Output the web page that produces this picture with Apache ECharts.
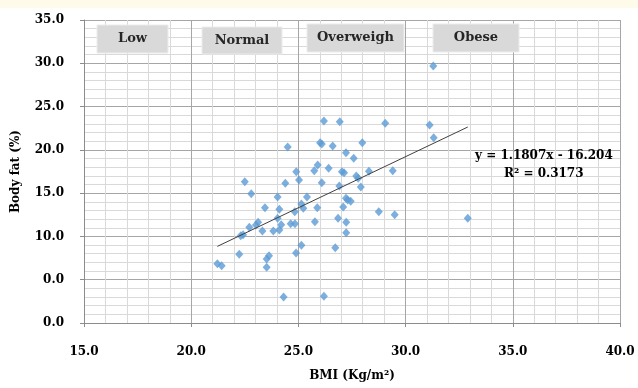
<!DOCTYPE html>
<html>
<head>
<meta charset="utf-8">
<script src="https://cdn.jsdelivr.net/npm/echarts@6/dist/echarts.min.js"></script>
<style>
  html, body { margin: 0; padding: 0; background: #fff; }
  #chart { width: 638px; height: 388px; }
</style>
</head>
<body>
<div id="chart"></div>
<script>
// BMI (x) vs body fat (y)
const bmi = [
  26.19, 26.93, 29.05, 24.50, 26.01, 26.09, 26.60, 27.98, 27.22, 27.58,
  25.90, 26.41, 25.74, 24.90, 27.03, 27.13, 28.29, 29.40, 27.70, 27.79,
  25.03, 22.50, 24.39, 26.09, 26.91, 27.91, 22.80, 24.03, 25.40, 27.22,
  27.30, 27.44, 25.14, 23.44, 24.11, 25.23, 25.88, 27.09, 28.75, 29.49,
  24.83, 24.03, 26.85, 23.12, 23.02, 22.71, 24.20, 24.64, 24.84, 25.77,
  27.23, 23.32, 23.83, 24.11, 22.42, 22.31, 27.23, 25.14, 26.72, 24.89,
  22.24, 23.63, 23.52, 21.22, 21.42, 23.52, 24.31, 26.19, 31.29, 31.12,
  31.31, 32.90
];
const bodyFat = [
  23.33, 23.25, 23.07, 20.33, 20.83, 20.68, 20.45, 20.83, 19.67, 19.02,
  18.25, 17.87, 17.59, 17.48, 17.48, 17.36, 17.52, 17.59, 16.98, 16.71,
  16.52, 16.32, 16.14, 16.21, 15.83, 15.71, 14.94, 14.55, 14.55, 14.40,
  14.21, 14.06, 13.75, 13.32, 13.13, 13.25, 13.32, 13.40, 12.86, 12.51,
  12.86, 12.09, 12.09, 11.63, 11.32, 11.05, 11.36, 11.47, 11.47, 11.70,
  11.63, 10.63, 10.63, 10.74, 10.20, 10.08, 10.43, 8.98, 8.70, 8.09,
  7.94, 7.77, 7.39, 6.85, 6.62, 6.43, 3.00, 3.08, 29.69, 22.87,
  21.40, 12.09
];

// linear trend line ends (from the picture)
const trendX = [21.22, 32.90];
const trendY = [8.85, 22.64];

// tick labels as printed on the original
const yTickLabels = ['0.0', '0.0', '10.0', '15.0', '20.0', '25.0', '30.0', '35.0'];
const categories = ['Low', 'Normal', 'Overweigh', 'Obese'];

const serif = '"DejaVu Serif", "Liberation Serif", serif';
const points = bmi.map((x, i) => [x, bodyFat[i]]);
const trend = trendX.map((x, i) => [x, trendY[i]]);

const boxes = [
  { x: 97, y: 25, w: 71, h: 28 },
  { x: 202, y: 27, w: 80, h: 27 },
  { x: 307, y: 24, w: 97, h: 28 },
  { x: 433, y: 24, w: 86, h: 28 }
];

const graphic = [
  { type: 'rect', x: 0, y: 0, shape: { width: 638, height: 8 }, style: { fill: '#fffbea' }, z: 0 }
];
boxes.forEach((b, i) => {
  graphic.push({
    type: 'rect',
    x: b.x, y: b.y,
    shape: { width: b.w, height: b.h },
    style: { fill: '#d9d9d9', stroke: '#ececec', lineWidth: 1 },
    z: 10
  });
  graphic.push({
    type: 'text',
    x: b.x + b.w / 2, y: b.y + b.h / 2,
    style: {
      text: categories[i], fill: '#262626', font: 'bold 13px ' + serif,
      align: 'center', verticalAlign: 'middle'
    },
    z: 11
  });
});
graphic.push({
  type: 'text', x: 475, y: 156,
  style: { text: 'y = 1.1807x - 16.204', fill: '#000', font: 'bold 12px ' + serif, verticalAlign: 'middle' },
  z: 11
});
graphic.push({
  type: 'text', x: 504, y: 174,
  style: { text: 'R² = 0.3173', fill: '#000', font: 'bold 12px ' + serif, verticalAlign: 'middle' },
  z: 11
});

const chart = echarts.init(document.getElementById('chart'));
chart.setOption({
  animation: false,
  backgroundColor: '#fff',
  grid: { left: 84, right: 18, top: 20, bottom: 65 },
  xAxis: {
    type: 'value',
    min: 15, max: 40, interval: 5,
    name: 'BMI (Kg/m²)',
    nameLocation: 'middle',
    nameGap: 47,
    nameTextStyle: { fontFamily: serif, fontWeight: 'bold', fontSize: 12, color: '#000' },
    axisLine: { lineStyle: { color: '#8c8c8c' } },
    axisTick: { show: true, length: 4, lineStyle: { color: '#8c8c8c' } },
    axisLabel: {
      margin: 23, fontFamily: serif, fontWeight: 'bold', fontSize: 12, color: '#000',
      formatter: v => v.toFixed(1)
    },
    splitLine: { show: true, lineStyle: { color: '#a6a6a6' } },
    minorTick: { show: true, splitNumber: 5, length: 0 },
    minorSplitLine: { show: true, lineStyle: { color: '#d9d9d9' } }
  },
  yAxis: {
    type: 'value',
    min: 0, max: 35, interval: 5,
    name: 'Body fat (%)',
    nameLocation: 'middle',
    nameGap: 62,
    nameTextStyle: { fontFamily: serif, fontWeight: 'bold', fontSize: 12, color: '#000' },
    axisLine: { show: true, lineStyle: { color: '#8c8c8c' } },
    axisTick: { show: true, length: 4, lineStyle: { color: '#8c8c8c' } },
    axisLabel: {
      margin: 20, fontFamily: serif, fontWeight: 'bold', fontSize: 12, color: '#000',
      formatter: (v) => yTickLabels[Math.round(v / 5)]
    },
    splitLine: { show: true, lineStyle: { color: '#a6a6a6' } },
    minorTick: { show: true, splitNumber: 5, length: 0 },
    minorSplitLine: { show: true, lineStyle: { color: '#d9d9d9' } }
  },
  series: [
    {
      type: 'scatter',
      data: points,
      symbol: 'diamond',
      symbolSize: [8, 9],
      itemStyle: { color: '#5b9bd5' },
      z: 3
    },
    {
      type: 'line',
      data: trend,
      symbol: 'none',
      lineStyle: { color: '#404040', width: 1 },
      z: 4
    }
  ],
  graphic: graphic
});
</script>
</body>
</html>
